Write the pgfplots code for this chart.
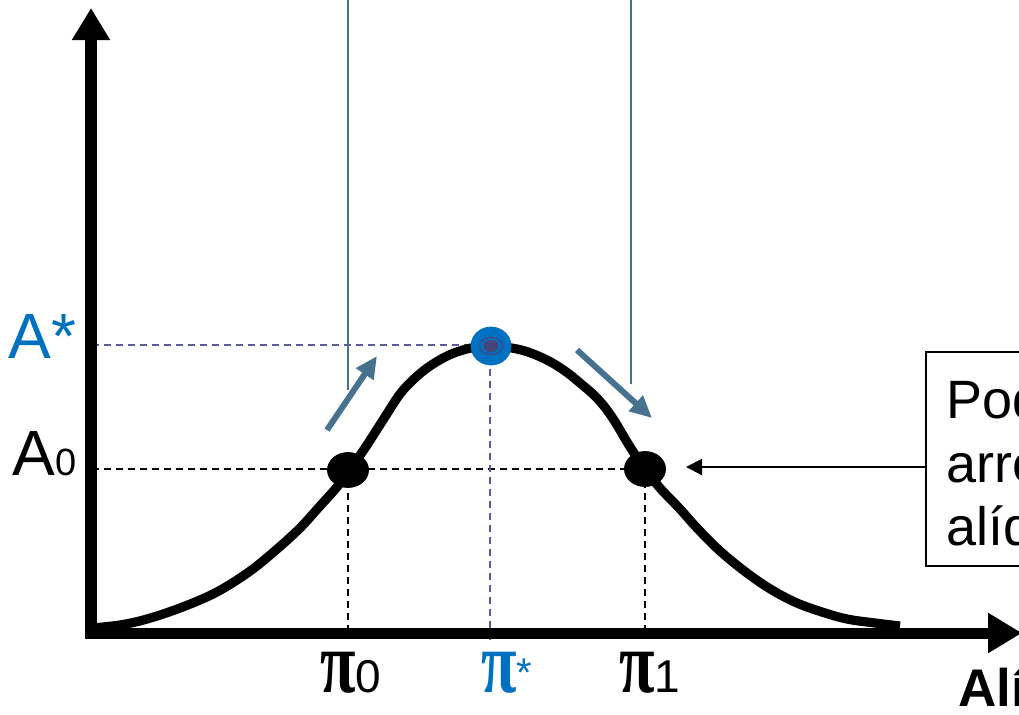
\documentclass[border=0pt]{standalone}
\usepackage{pgfplots}
\pgfplotsset{compat=1.18}
\usetikzlibrary{arrows.meta}
\usepackage{fontspec}
\setmainfont{Liberation Sans}
\newfontfamily\pifont{Liberation Serif}
\definecolor{ablue}{HTML}{0070C0}
\definecolor{steel}{HTML}{46728F}
\definecolor{dpurple}{HTML}{5B5B9B}
\definecolor{ring}{HTML}{3C4C8C}
\definecolor{core}{HTML}{45457A}
\newcommand{\bigpi}{{\pifont\bfseries\fontsize{36}{44}\selectfont\scalebox{0.9}[1.22]{π}}}
\begin{document}
\begin{tikzpicture}
\useasboundingbox (0,0) rectangle (509.5pt,357pt);
\clip (0,0) rectangle (509.5pt,357pt);
\begin{axis}[
  at={(0,0)}, anchor=south west,
  scale only axis, width=509.5pt, height=357pt,
  xmin=0, xmax=1019, ymin=0, ymax=714, y dir=reverse,
  hide axis, clip=false,
]
% thin steel lines from above
\addplot[steel, line width=1pt] coordinates {(348,-5) (348,390)};
\addplot[steel, line width=1pt] coordinates {(631,-5) (631,384)};
% dashed guide lines
\addplot[black, line width=0.8pt, dash pattern=on 3.5pt off 2.5pt] coordinates {(92,469) (645,469)};
\addplot[black, line width=0.8pt, dash pattern=on 3.5pt off 2.5pt] coordinates {(348,469) (348,630)};
\addplot[black, line width=0.8pt, dash pattern=on 3.5pt off 2.5pt] coordinates {(645,469) (645,630)};
\addplot[dpurple, line width=0.8pt, dash pattern=on 3.5pt off 2.5pt] coordinates {(92,345) (490,345)};
\addplot[dpurple, line width=0.8pt, dash pattern=on 3.5pt off 2.5pt] coordinates {(490,345) (490,642)};
% axes
\addplot[black, line width=6pt, -{Triangle[length=16pt,width=18pt]}] coordinates {(91,638) (91,8)};
\addplot[black, line width=5.5pt, -{Triangle[length=17pt,width=19pt]}] coordinates {(85,633) (1022,633)};
% curve
\addplot[black, line width=4.6pt, smooth, tension=0.6] coordinates {
(92,628) (120,625) (147,619) (180,608) (213,594) (240,578) (263,561) (297,531)
(320,506) (337,487) (348,472) (365,448) (383,420) (400,394) (415,378) (430,366)
(447,356) (463,350) (477,347) (490,346) (505,347) (525,351) (547,360) (565,371)
(580,383) (595,396) (607,410) (617,425) (627,442) (636,456) (645,469) (660,488)
(680,509) (697,528) (720,551) (747,573) (772,590) (797,603) (822,612) (847,619)
(875,623) (900,626)};
% steel arrows
\addplot[steel, line width=3pt, -{Triangle[length=11pt,width=10pt]}] coordinates {(327,430) (377,356)};
\addplot[steel, line width=3pt, -{Triangle[length=11pt,width=10pt]}] coordinates {(577,350) (652,418)};
% dots
\addplot[only marks, mark=*, mark size=9.5pt, mark options={xscale=1.08, yscale=0.92, fill=black, draw=black}] coordinates {(348,470) (645,469)};
\addplot[only marks, mark=*, mark size=10pt, mark options={yscale=0.95, fill=ablue, draw=ablue}] coordinates {(491,346)};
\addplot[only marks, mark=o, mark size=5.5pt, mark options={draw=ring, line width=0.7pt, xscale=1.05, yscale=0.78}] coordinates {(491,346)};
\addplot[only marks, mark=*, mark size=3.5pt, mark options={fill=core, draw=core, yscale=0.8}] coordinates {(491,346)};
% black pointer arrow
\addplot[black, line width=1pt, -{Triangle[length=8pt,width=8pt]}] coordinates {(926,467) (686,467)};
\draw[line width=1pt] (axis cs:926,352) rectangle (axis cs:1040,566);
% box text (cut at the right edge, as in the reference)
\node[anchor=base west, inner sep=0pt, font=\fontsize{27}{32}\selectfont] at (axis cs:946,418) {Poder de};
\node[anchor=base west, inner sep=0pt, font=\fontsize{27}{32}\selectfont] at (axis cs:946,482) {arrecadação};
\node[anchor=base west, inner sep=0pt, font=\fontsize{27}{32}\selectfont] at (axis cs:946,545) {alíquota};
% y labels
\node[anchor=base west, inner sep=0pt, text=ablue, font=\fontsize{32}{38}\selectfont] at (axis cs:8,358) {A*};
\node[anchor=base west, inner sep=0pt] at (axis cs:12,475) {\fontsize{32}{38}\selectfont A\fontsize{19}{22}\selectfont 0};
% x labels
\node[anchor=base, inner sep=0pt] at (axis cs:351,692) {\bigpi{\fontsize{23}{28}\selectfont 0}};
\node[anchor=base, inner sep=0pt, text=ablue] at (axis cs:507,692) {\bigpi\raisebox{0.55ex}{\fontsize{20}{24}\selectfont *}};
\node[anchor=base, inner sep=0pt] at (axis cs:650,692) {\bigpi{\fontsize{23}{28}\selectfont 1}};
\node[anchor=base west, inner sep=0pt, font=\bfseries\fontsize{26.5}{30}\selectfont] at (axis cs:958,706) {Alíquota};
\end{axis}
\end{tikzpicture}
\end{document}
